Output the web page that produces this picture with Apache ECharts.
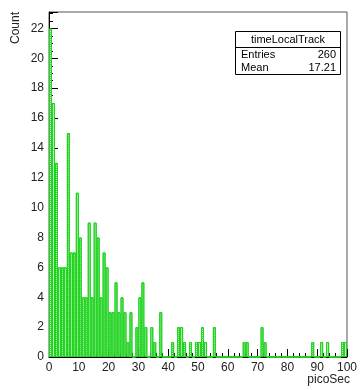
<!DOCTYPE html>
<html>
    <head>
        <meta charset="utf-8">
        <title>timeLocalTrack</title>
        <style>
            body{
                margin:0;
                background-color:#FFFFFF;
            }
            #main{
                width:360px;
                height:390px;
            }
        </style>
    </head>
    <body>
        <div id="main"></div>

        <script src="https://cdn.jsdelivr.net/npm/echarts@6/dist/echarts.min.js"></script>

        <script>
            // 直方图: 0-100 picoSec, 每个bin宽度1
            var binStart = 0;
            var binCount = 100;
            var counts = [
                22, 17, 13, 6, 6, 6, 15, 7, 7, 11,
                8, 4, 4, 9, 4, 9, 8, 4, 7, 6,
                3, 3, 5, 3, 4, 3, 1, 3, 0, 2,
                4, 5, 2, 0, 2, 1, 0, 3, 0, 0,
                0, 1, 0, 2, 2, 1, 0, 1, 0, 1,
                1, 2, 1, 0, 0, 2, 0, 0, 0, 0,
                0, 0, 0, 0, 0, 1, 1, 0, 0, 0,
                0, 2, 1, 0, 0, 0, 0, 0, 0, 0,
                0, 0, 0, 0, 0, 0, 0, 0, 1, 0,
                0, 1, 0, 1, 0, 0, 0, 0, 1, 1
            ];
            var xTicks = [0, 10, 20, 30, 40, 50, 60, 70, 80, 90, 100];
            var yTicks = [0, 2, 4, 6, 8, 10, 12, 14, 16, 18, 20, 22];
            var statsTitle = "timeLocalTrack";
            var statsNames = ["Entries", "Mean"];
            var statsValues = ["260", "17.21"];

            var categories = [];
            for (var i = 0; i < binCount; i++) {
                categories.push(String(binStart + i));
            }

            var font = "Liberation Sans";
            var myChart = echarts.init(document.getElementById('main'));

            var option = {
                animation: false,
                grid: {
                    left: 49,
                    right: 10,
                    top: 12,
                    bottom: 33,
                    show: true,
                    borderColor: '#555',
                    borderWidth: 1
                },
                xAxis: [{
                    type: 'category',
                    data: categories,
                    show: false
                }, {
                    type: 'value',
                    min: xTicks[0],
                    max: xTicks[xTicks.length - 1],
                    interval: 10,
                    position: 'bottom',
                    axisLine: {lineStyle: {color: '#000', width: 1}},
                    axisTick: {inside: true, length: 8, lineStyle: {color: '#000'}},
                    minorTick: {show: true, splitNumber: 5, length: 4, lineStyle: {color: '#000'}},
                    splitLine: {show: false},
                    axisLabel: {
                        color: '#222', fontFamily: font, fontSize: 12, margin: 5,
                        showMaxLabel: true
                    }
                }],
                yAxis: {
                    type: 'value',
                    min: yTicks[0],
                    max: 23.1,
                    interval: 2,
                    axisLine: {show: true, lineStyle: {color: '#000', width: 1}},
                    axisTick: {inside: true, length: 9, lineStyle: {color: '#000'}},
                    minorTick: {show: true, splitNumber: 4, length: 4, lineStyle: {color: '#000'}},
                    splitLine: {show: false},
                    axisLabel: {
                        color: '#222', fontFamily: font, fontSize: 12, margin: 5,
                        showMaxLabel: false
                    }
                },
                series: [{
                    type: 'bar',
                    xAxisIndex: 0,
                    data: counts,
                    barCategoryGap: '0%',
                    itemStyle: {
                        color: '#c4f6c4',
                        borderColor: '#22d322',
                        borderWidth: 1,
                        decal: {
                            symbol: 'rect',
                            symbolSize: 1,
                            dashArrayX: [1, 1],
                            dashArrayY: [1, 1],
                            color: '#3fdc3f'
                        }
                    }
                }],
                graphic: [
                    // 坐标轴标题
                    {
                        type: 'text', x: 16, y: 12, rotation: Math.PI / 2,
                        style: {text: 'Count', fontFamily: font, fontSize: 12, fill: '#222',
                                align: 'right', verticalAlign: 'middle'}
                    },
                    {
                        type: 'text', x: 350, y: 380,
                        style: {text: 'picoSec', fontFamily: font, fontSize: 12, fill: '#222',
                                align: 'right', verticalAlign: 'middle'}
                    },
                    // 统计框
                    {
                        type: 'rect', shape: {x: 235.5, y: 31.5, width: 105, height: 43},
                        style: {fill: '#fff', stroke: '#000', lineWidth: 1}
                    },
                    {
                        type: 'line', shape: {x1: 235.5, y1: 47.5, x2: 340.5, y2: 47.5},
                        style: {stroke: '#000', lineWidth: 1}
                    },
                    {
                        type: 'text', x: 288, y: 40,
                        style: {text: statsTitle, fontFamily: font, fontSize: 11, fill: '#000',
                                align: 'center', verticalAlign: 'middle'}
                    },
                    {
                        type: 'text', x: 241, y: 55,
                        style: {text: statsNames[0], fontFamily: font, fontSize: 11, fill: '#000',
                                align: 'left', verticalAlign: 'middle'}
                    },
                    {
                        type: 'text', x: 336, y: 55,
                        style: {text: statsValues[0], fontFamily: font, fontSize: 11, fill: '#000',
                                align: 'right', verticalAlign: 'middle'}
                    },
                    {
                        type: 'text', x: 241, y: 68,
                        style: {text: statsNames[1], fontFamily: font, fontSize: 11, fill: '#000',
                                align: 'left', verticalAlign: 'middle'}
                    },
                    {
                        type: 'text', x: 336, y: 68,
                        style: {text: statsValues[1], fontFamily: font, fontSize: 11, fill: '#000',
                                align: 'right', verticalAlign: 'middle'}
                    }
                ]
            };

            myChart.setOption(option);
        </script>
    </body>
</html>
